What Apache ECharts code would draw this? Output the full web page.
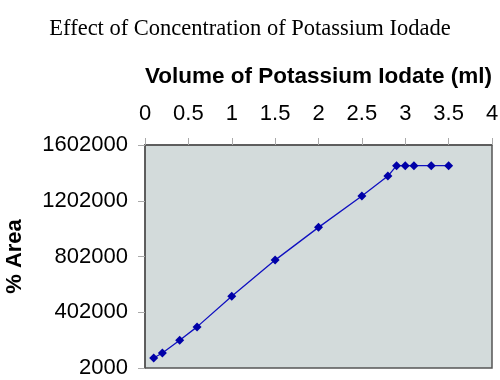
<!DOCTYPE html>
<html><head><meta charset="utf-8">
<script src="https://cdn.jsdelivr.net/npm/echarts@6/dist/echarts.min.js"></script>
<style>html,body{margin:0;padding:0;background:#fff}#c{width:500px;height:380px}</style>
</head><body><div id="c"></div>
<script>
const volume = [0.1, 0.2, 0.4, 0.6, 1.0, 1.5, 2.0, 2.5, 2.8, 2.9, 3.0, 3.1, 3.3, 3.5];
const area = [74000, 110000, 201000, 297000, 517000, 776000, 1011000, 1236000, 1379000, 1454000, 1454000, 1454000, 1454000, 1454000];
const yTicks = [2000, 402000, 802000, 1202000, 1602000];
const xTicks = [0, 0.5, 1, 1.5, 2, 2.5, 3, 3.5, 4];

const chart = echarts.init(document.getElementById('c'), null, {renderer: 'canvas'});
chart.setOption({
  animation: false,
  title: {
    text: 'Effect of Concentration of Potassium Iodade',
    left: 'center', top: 13,
    textStyle: {fontFamily: 'Liberation Serif', fontWeight: 'normal', fontSize: 22.5, color: '#000'}
  },
  grid: {left: 145, right: 8, top: 145, bottom: 12, outerBoundsMode: 'none', containLabel: false,
         show: true, backgroundColor: '#d3dbdb', borderColor: '#555', borderWidth: 1.5},
  xAxis: {
    type: 'value', position: 'top', min: 0, max: 4, interval: 0.5,
    name: 'Volume of Potassium Iodate (ml)', nameLocation: 'middle', nameGap: 57,
    nameTextStyle: {fontFamily: 'Liberation Sans', fontWeight: 'bold', fontSize: 22.5, color: '#000'},
    axisLine: {show: true, lineStyle: {color: '#555', width: 1.5}},
    axisTick: {show: true, inside: false, length: 7, lineStyle: {color: '#aaa'}},
    axisLabel: {fontFamily: 'Liberation Sans', fontSize: 22, color: '#000', margin: 20, customValues: xTicks,
                formatter: v => String(v)},
    splitLine: {show: false}
  },
  yAxis: {
    type: 'value', min: 2000, max: 1602000,
    name: '% Area', nameLocation: 'middle', nameGap: 119, nameRotate: 90,
    nameTextStyle: {fontFamily: 'Liberation Sans', fontWeight: 'bold', fontSize: 22, color: '#000'},
    axisLine: {show: true, lineStyle: {color: '#555', width: 1.5}},
    axisTick: {show: true, length: 7, lineStyle: {color: '#aaa'}, customValues: yTicks},
    axisLabel: {fontFamily: 'Liberation Sans', fontSize: 22, color: '#000', margin: 17, customValues: yTicks,
                formatter: v => String(v)},
    splitLine: {show: false}
  },
  series: [{
    type: 'line',
    data: volume.map((v, i) => [v, area[i]]),
    symbol: 'diamond', symbolSize: 9,
    itemStyle: {color: '#0000a8'},
    lineStyle: {color: '#1010c0', width: 1.3}
  }]
});
</script>
</body></html>
